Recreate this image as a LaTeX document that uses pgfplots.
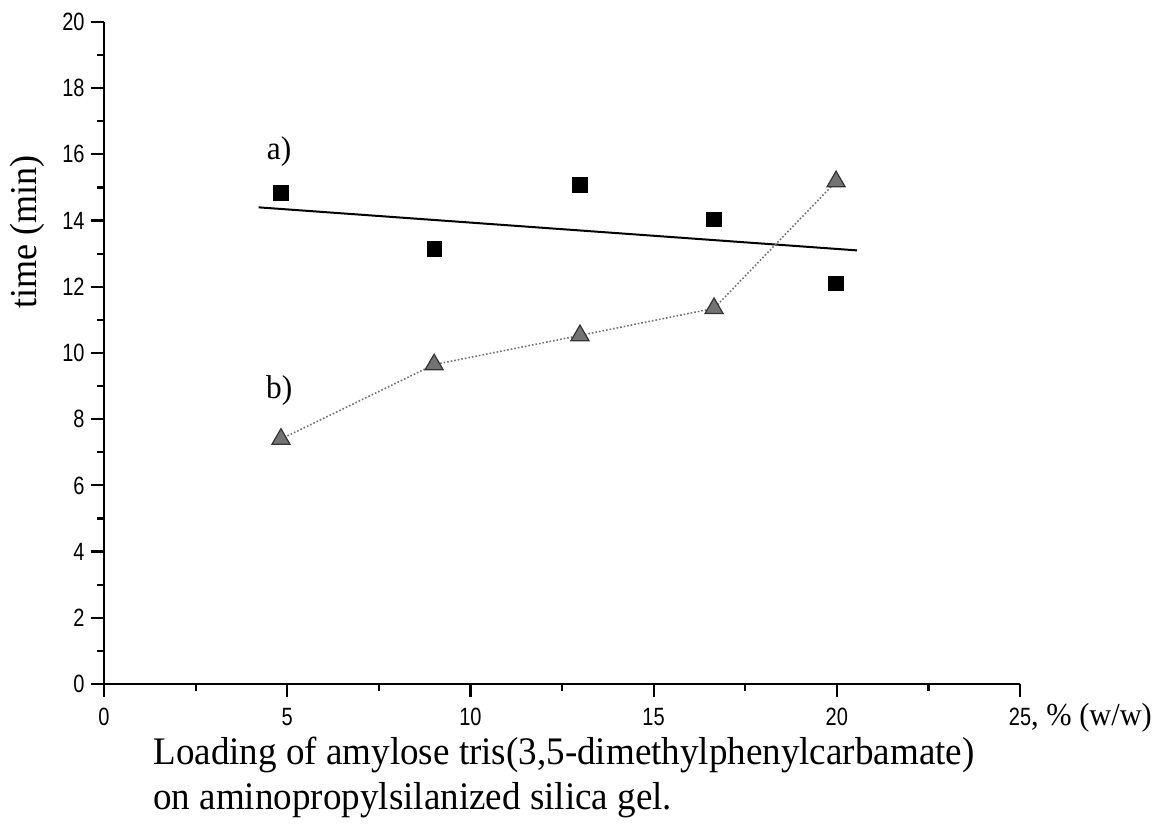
\documentclass[border=0pt]{standalone}
\usepackage{fontspec}
\setmainfont{Liberation Serif}
\newfontfamily\tickfont[FakeStretch=0.8, Scale=1.25]{Liberation Sans}
\newfontfamily\labfont[FakeStretch=0.95]{Liberation Serif}
\newcommand\tkl[1]{\mbox{\normalsize\tickfont #1}}
\usepackage{pgfplots}
\pgfplotsset{compat=1.18}

\begin{document}
\begin{tikzpicture}
\begin{axis}[
  scale only axis, width=458pt, height=331pt,
  xmin=0, xmax=25, ymin=0, ymax=20,
  axis x line*=bottom, axis y line*=left,
  axis line style={line width=1.4pt, -},
  xtick={0,5,10,15,20,25}, ytick={0,2,4,6,8,10,12,14,16,18,20},
  minor xtick={2.5,7.5,12.5,17.5,22.5}, minor ytick={1,3,5,7,9,11,13,15,17,19},
  tick align=outside,
  major tick length=6.5pt, minor tick length=3.5pt,
  tick style={black, line width=1.1pt},
  xticklabels={\tkl{0},\tkl{5},\tkl{10},\tkl{15},\tkl{20},{\tkl{25}\rlap{\labfont\fontsize{16pt}{18pt}\selectfont, \% (w/w)}}},
  yticklabels={\tkl{0},\tkl{2},\tkl{4},\tkl{6},\tkl{8},\tkl{10},\tkl{12},\tkl{14},\tkl{16},\tkl{18},\tkl{20}},
  xticklabel style={inner sep=0pt, anchor=base, yshift=-14pt},
  yticklabel style={inner sep=0pt, anchor=east, xshift=-3pt},
  clip=false,
]
\addplot[only marks, mark=square*, mark size=3.6pt, black] coordinates {
  (4.83,14.84) (9.01,13.15) (12.99,15.08) (16.65,14.03) (19.98,12.10)};
\addplot[black, line width=1pt] coordinates {(4.22,14.40) (20.55,13.10)};
\addplot[black!55, line width=0.8pt, densely dotted,
  mark=triangle*, mark size=5.2pt,
  mark options={solid, fill=black!55, draw=black!80, line width=0.6pt}] coordinates {
  (4.83,7.40) (9.01,9.65) (12.99,10.53) (16.65,11.35) (19.98,15.18)};
\node[font=\labfont\fontsize{16.5pt}{18pt}\selectfont] at (axis cs:4.78,16.1) {a)};
\node[font=\labfont\fontsize{16.5pt}{18pt}\selectfont] at (axis cs:4.78,8.87) {b)};
\coordinate (O) at (rel axis cs:0,0);
\end{axis}
\node[rotate=90, font=\labfont\fontsize{19pt}{22pt}\selectfont] at ([xshift=-38.5pt, yshift=226pt]O) {time (min)};
\node[anchor=base west, inner sep=0pt, font=\labfont\fontsize{19.5pt}{22pt}\selectfont] at ([xshift=24.5pt, yshift=-40.5pt]O) {Loading of amylose tris(3,5-dimethylphenylcarbamate)};
\node[anchor=base west, inner sep=0pt, font=\labfont\fontsize{19.5pt}{22pt}\selectfont] at ([xshift=24.5pt, yshift=-63pt]O) {on aminopropylsilanized silica gel.};
\pgfresetboundingbox
\useasboundingbox ([xshift=-52pt, yshift=-70pt]O) rectangle ([xshift=528.5pt, yshift=342pt]O);
\end{tikzpicture}
\end{document}
